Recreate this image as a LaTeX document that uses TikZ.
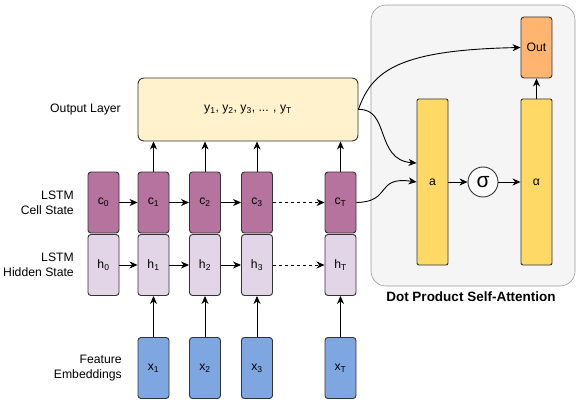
\documentclass[tikz,border=0pt]{standalone}
\usepackage{fontspec}
\setmainfont{Liberation Sans}
\usetikzlibrary{positioning}
\usetikzlibrary{arrows.meta}
\definecolor{outfill}{HTML}{FFF2CC}
\definecolor{cellfill}{HTML}{B5739D}
\definecolor{hidfill}{HTML}{E1D5E7}
\definecolor{featfill}{HTML}{7EA6E0}
\definecolor{attfill}{HTML}{FFD966}
\definecolor{resfill}{HTML}{FFB570}
\definecolor{bgfill}{HTML}{F5F5F5}
\definecolor{bgline}{HTML}{9A9A9A}
\definecolor{boxline}{HTML}{333333}
\tikzset{
  Box/.style={draw=boxline, rounded corners=3pt, minimum width=31pt, minimum height=61pt, inner sep=0pt}, % Grundform
  CellBox/.style={Box, fill=cellfill},
  HidBox/.style={Box, fill=hidfill},
  FeatBox/.style={Box, fill=featfill},
  AttBox/.style={Box, fill=attfill, rounded corners=2pt, minimum height=166pt},
  ResBox/.style={Box, fill=resfill},
  Lbl/.style={align=right, anchor=east},
  Pfeil/.style={->, draw=black}
}
\begin{document}
\begin{tikzpicture}[
x=1pt, y=-1pt,
font=\fontsize{12.2}{15}\selectfont,
line width=0.9pt,
>={Stealth[length=8pt,width=7pt,inset=2.5pt]} % Pfeilspitzen
]
\useasboundingbox (0,0) rectangle (581,409);

%Hintergrund Attention
\draw[draw=bgline, fill=bgfill, rounded corners=15pt, line width=0.6pt] (371,5) rectangle (575,286);
\node[font=\fontsize{13.5}{15}\selectfont\bfseries] (attTitle) at (471,297) {Dot Product Self-Attention};

%LSTM
\node[Box, fill=outfill, rounded corners=6pt, minimum width=220pt, minimum height=63pt] (outl) at (248,109.5)
  {y\textsubscript{1}, y\textsubscript{2}, y\textsubscript{3}, ... , y\textsubscript{T}};
\foreach \k/\xx in {0/103.5,1/153.5,2/205,3/257,T/340.5}{
  \node[CellBox] (c\k) at (\xx,202.5) {c\textsubscript{\k}};
  \node[HidBox] (h\k) at (\xx,265) {h\textsubscript{\k}};
}
\foreach \k/\xx in {1/153.5,2/205,3/257,T/340.5}
  \node[FeatBox] (x\k) at (\xx,368) {x\textsubscript{\k}};

%Beschriftungen
\node[Lbl, left=13pt of outl] (lOut) {Output Layer};
\node[Lbl, left=10pt of c0] (lCell) {LSTM\\Cell State};
\node[Lbl, left=10pt of h0] (lHid) {LSTM\\Hidden State};
\node[Lbl, left=12pt of x1] (lFeat) {Feature\\Embeddings};

%Attention
\node[AttBox] (a) at (432.5,182) {a};
\node[AttBox] (alpha) at (536.5,182) {α};
\node[ResBox] (res) at (536.5,47.5) {Out};
\node[draw=boxline, fill=white, circle, minimum size=30pt, inner sep=0pt, font=\fontsize{21}{21}\selectfont] (sig) at (483,182) {σ};

%Pfeile
\foreach \a/\b in {0/1,1/2,2/3}{
  \draw[Pfeil] (c\a) -- (c\b);
  \draw[Pfeil] (h\a) -- (h\b);
}
\draw[Pfeil, dash pattern=on 3pt off 3pt] (c3) -- (cT);
\draw[Pfeil, dash pattern=on 3pt off 3pt] (h3) -- (hT);
\foreach \k in {1,2,3,T}{
  \draw[Pfeil] (x\k) -- (h\k);
  \draw[Pfeil] (c\k.north) -- (c\k.north |- outl.south);
}
\draw[Pfeil] (a) -- (sig);
\draw[Pfeil] (sig) -- (alpha);
\draw[Pfeil] (alpha) -- (res);
\draw[Pfeil] (outl.east) .. controls (372,70) and (400,50) .. (res.west);
\draw[Pfeil] (outl.east) .. controls (390,108) and (375,160) .. ([yshift=19pt]a.west);
\draw[Pfeil] (cT.east) .. controls (392,202) and (375,176) .. (a.west);
\end{tikzpicture}
\end{document}
